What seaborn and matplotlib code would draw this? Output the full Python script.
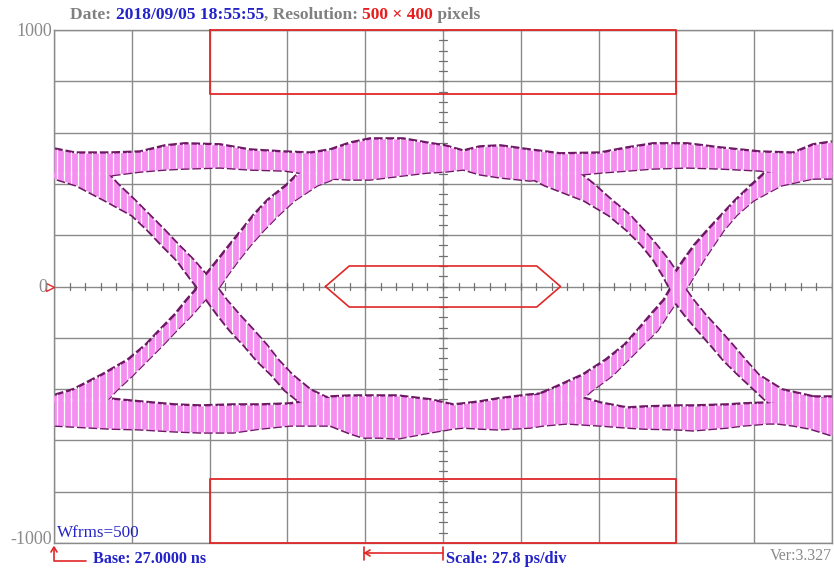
import numpy as np
import matplotlib
matplotlib.use("Agg")
import matplotlib.pyplot as plt
import seaborn as sns

# ---------------- data (time in ps, amplitude in mV) ----------------
PS_PER_DIV = 27.8
N_XDIV = 10
Y_LIM = (-1000, 1000)
Y_STEP = 200

# upper ("1") rail envelope
TOP_X = [0, 7.5, 20.0, 30.7, 39.7, 46.8, 59.3, 70.0, 82.5, 91.5, 98.6, 105.8, 112.9, 124.7, 133.3,
         139.7, 146.2, 152.2, 159.4, 170.1, 180.8, 195.1, 204.8, 214.1, 226.2, 238.0, 252.3, 264.1, 271.2, 278.0]
TOP_HI = [536, 520, 520, 524, 548, 556, 552, 532, 524, 520, 532, 559, 575, 575, 559,
          548, 528, 544, 548, 532, 517, 520, 540, 556, 556, 540, 524, 520, 552, 563]
TOP_LO = [431, 431, 435, 450, 458, 462, 466, 458, 454, 439, 423, 419, 419, 435, 446,
          450, 458, 439, 427, 415, 431, 446, 454, 462, 466, 462, 454, 431, 423, 423]

# lower ("0") rail envelope
BOT_X = [0, 20.0, 30.7, 43.2, 52.2, 64.0, 73.6, 84.3, 98.6, 105.8, 110.4, 116.5, 122.6, 134.4, 142.6,
         146.2, 152.2, 158.3, 164.0, 170.1, 174.7, 183.3, 189.0, 195.1, 204.8, 210.5, 222.6, 228.3,
         240.5, 246.2, 255.1, 258.4, 264.1, 270.1, 278.0]
BOT_HI = [-435, -439, -450, -462, -466, -462, -462, -458, -431, -427, -427, -427, -427, -442, -462,
          -458, -450, -439, -431, -423, -419, -423, -435, -454, -474, -470, -466, -466,
          -462, -458, -454, -446, -435, -431, -431]
BOT_LO = [-540, -552, -555, -563, -567, -567, -552, -540, -540, -571, -587, -587, -591, -567, -552,
          -548, -552, -555, -552, -548, -540, -532, -536, -540, -548, -552, -555, -559,
          -548, -540, -532, -532, -540, -552, -579]

# transitions: amplitude levels and left / right time boundaries
F1_Y = [446, 396, 337, 279, 220, 162, 103, 45, 0, -53, -111, -170, -228, -287, -345, -403, -450]
F1_XL = [-6.8, 7.9, 18.2, 27.9, 33.6, 38.6, 44.0, 47.9, 51.1, 54.7, 58.6, 62.9, 67.9, 72.5, 77.9, 82.5, 87.9]
F1_XR = [18.6, 22.9, 28.6, 33.9, 39.3, 44.3, 49.7, 54.3, 57.9, 61.5, 66.1, 71.1, 75.8, 80.0, 85.0, 91.5, 100.4]

R1_Y = [-450, -403, -345, -287, -228, -170, -111, -53, 0, 45, 103, 162, 220, 279, 337, 396, 446]
R1_XL = [-7.5, 6.8, 17.2, 26.4, 32.9, 37.9, 43.2, 47.5, 51.8, 54.3, 58.6, 62.9, 67.2, 71.5, 76.5, 83.3, 87.9]
R1_XR = [18.2, 22.2, 27.9, 33.2, 38.6, 43.6, 49.0, 53.6, 59.0, 61.8, 65.7, 70.0, 74.7, 80.0, 85.8, 94.0, 105.8]

F2_Y = [446, 396, 337, 279, 220, 162, 103, 45, 0, -53, -111, -170, -228, -287, -345, -403, -450]
F2_XL = [166.5, 175.4, 189.4, 198.3, 204.8, 210.1, 214.4, 217.6, 219.8, 221.5, 225.5, 230.1, 234.8,
         239.4, 244.8, 250.5, 255.1]
F2_XR = [187.2, 193.0, 199.0, 205.5, 210.5, 215.1, 219.4, 223.0, 224.8, 228.3, 232.6, 237.6, 242.3,
         246.9, 251.6, 260.1, 279.1]

R2_Y = [-450, -403, -345, -287, -228, -170, -111, -53, 0, 45, 103, 162, 220, 279, 337, 396, 446]
R2_XL = [166.5, 177.2, 189.0, 197.2, 204.0, 208.7, 213.3, 218.0, 220.8, 221.5, 225.1, 229.0, 233.7,
         238.7, 243.7, 249.4, 254.4]
R2_XR = [187.2, 192.2, 199.4, 204.8, 210.1, 215.5, 219.0, 222.6, 226.2, 228.7, 231.9, 235.5, 239.1,
         243.7, 249.8, 259.8, 280.9]

# eye mask
MASK_X = [55.6, 222.4]
MASK_TOP_Y = [750, 1000]
MASK_BOT_Y = [-1000, -750]
HEX_X = [97.0, 105.5, 172.5, 181.0, 172.5, 105.5, 97.0]
HEX_Y = [0, 80, 80, 0, -80, -80, 0]

Y_LABELS = ["1000", "0", "-1000"]
TITLE_PARTS = [("Date: ", "#808080"), ("2018/09/05 18:55:55", "#2323c8"), (", Resolution: ", "#808080"),
               ("500 \u00d7 400", "#e61e1e"), (" pixels", "#808080")]

# ---------------- style ----------------
sns.set_style("white")
plt.rcParams["font.family"] = ["Liberation Serif", "DejaVu Serif"]

W, H = 834, 569
fig = plt.figure(figsize=(W / 100, H / 100), dpi=100)
x0, x1, y0, y1 = 54, 832, 30, 543
ax = fig.add_axes([x0 / W, 1 - y1 / H, (x1 - x0) / W, (y1 - y0) / H])
xmax = PS_PER_DIV * N_XDIV
ax.set_xlim(0, xmax)
ax.set_ylim(*Y_LIM)

GRID = "#8a8a8a"
ax.set_xticks(np.arange(0, xmax + 0.01, PS_PER_DIV))
ax.set_yticks(np.arange(Y_LIM[0], Y_LIM[1] + 1, Y_STEP))
ax.tick_params(length=0, labelbottom=False, labelleft=False)
ax.grid(True, color=GRID, lw=1.0, zorder=0)
ax.set_axisbelow(True)
for s in ax.spines.values():
    s.set_color(GRID)
    s.set_linewidth(1.0)

# center graticule ticks
xc = xmax / 2
for yy in np.arange(Y_LIM[0], Y_LIM[1] + 1, Y_STEP / 5):
    ax.plot([xc - 1.3, xc + 1.3], [yy, yy], color="#707070", lw=0.9, zorder=1)
for xx in np.arange(0, xmax + 0.01, PS_PER_DIV / 5):
    ax.plot([xx, xx], [-15, 15], color="#707070", lw=0.9, zorder=1)

PINK = "#f48ef1"
EDGE = "#6e1865"

shapes = []
# outlines first (below fill), then fills
edge_kw = dict(color=EDGE, lw=2.6, estimator=None, sort=False, ax=ax, legend=False, zorder=2)
for xs, ys in [(TOP_X, TOP_HI), (TOP_X, TOP_LO), (BOT_X, BOT_HI), (BOT_X, BOT_LO),
               (F1_XL, F1_Y), (F1_XR, F1_Y), (R1_XL, R1_Y), (R1_XR, R1_Y),
               (F2_XL, F2_Y), (F2_XR, F2_Y), (R2_XL, R2_Y), (R2_XR, R2_Y)]:
    sns.lineplot(x=xs, y=ys, **edge_kw)
for ln in ax.get_lines()[-12:]:
    ln.set_dashes([2.4, 0.8])

shapes.append(ax.fill_between(TOP_X, TOP_LO, TOP_HI, color=PINK, lw=0, zorder=3))
shapes.append(ax.fill_between(BOT_X, BOT_LO, BOT_HI, color=PINK, lw=0, zorder=3))
for ys, xl, xr in [(F1_Y, F1_XL, F1_XR), (R1_Y, R1_XL, R1_XR), (F2_Y, F2_XL, F2_XR), (R2_Y, R2_XL, R2_XR)]:
    shapes.append(ax.fill_betweenx(ys, xl, xr, color=PINK, lw=0, zorder=3))

# white sampling stripes inside the traces
stripe_x = np.arange(1.2, xmax, 2.5)
for poly in shapes:
    lc = ax.vlines(stripe_x, Y_LIM[0], Y_LIM[1], colors="white", lw=0.9, zorder=4)
    lc.set_clip_path(poly.get_paths()[0], ax.transData)

# mask
RED = "#e02828"
ax.plot([MASK_X[0], MASK_X[0], MASK_X[1], MASK_X[1], MASK_X[0]],
        [MASK_TOP_Y[1], MASK_TOP_Y[0], MASK_TOP_Y[0], MASK_TOP_Y[1], MASK_TOP_Y[1]],
        color=RED, lw=1.3, zorder=6, clip_on=False)
ax.plot([MASK_X[0], MASK_X[0], MASK_X[1], MASK_X[1], MASK_X[0]],
        [MASK_BOT_Y[0], MASK_BOT_Y[1], MASK_BOT_Y[1], MASK_BOT_Y[0], MASK_BOT_Y[0]],
        color=RED, lw=1.3, zorder=6, clip_on=False)
ax.plot(HEX_X, HEX_Y, color=RED, lw=1.2, zorder=6)

# ---------------- texts ----------------
def fy(py):
    return 1 - py / H

TXT_GRAY = "#8a8a8a"
fig.text(52 / W, fy(31), Y_LABELS[0], ha="right", va="center", color=TXT_GRAY, fontsize=13)
fig.text(47 / W, fy(287), Y_LABELS[1], ha="right", va="center", color=TXT_GRAY, fontsize=13)
fig.text(52 / W, fy(540), Y_LABELS[2], ha="right", va="center", color=TXT_GRAY, fontsize=13)
ax.plot([-1.3], [0], marker=">", ms=6, mfc="none", mec=RED, mew=1.0, clip_on=False, zorder=7)

fig.canvas.draw()
r = fig.canvas.get_renderer()

def text_width(s, **kw):
    t = fig.text(0, 0, s + "|", **kw)
    w1 = t.get_window_extent(r).width
    t.remove()
    t = fig.text(0, 0, "|", **kw)
    w2 = t.get_window_extent(r).width
    t.remove()
    return w1 - w2

tkw = dict(fontsize=12.6, fontweight="bold")
prefix = ""
for s, c in TITLE_PARTS:
    xx = 70 + text_width(prefix, **tkw) if prefix else 70
    fig.text(xx / W, fy(19), s, color=c, ha="left", va="baseline", **tkw)
    prefix += s

BLUE = "#2323c8"
fig.text(57 / W, fy(537), "Wfrms=500", color=BLUE, ha="left", va="baseline", fontsize=12.3)
fig.text(93 / W, fy(563), "Base: 27.0000 ns", color=BLUE, ha="left", va="baseline",
         fontsize=11.6, fontweight="bold")
fig.text(446 / W, fy(563), "Scale: 27.8 ps/div", color=BLUE, ha="left", va="baseline",
         fontsize=11.8, fontweight="bold")
fig.text(832 / W, fy(560), "Ver:3.327", color=TXT_GRAY, ha="right", va="baseline", fontsize=11.5)

# base marker (L-arrow)
fig.add_artist(plt.Line2D([54 / W, 54 / W, 86 / W], [fy(549), fy(561), fy(561)], color=RED, lw=1.2))
fig.add_artist(plt.Line2D([51 / W, 54 / W, 57 / W], [fy(552), fy(547), fy(552)], color=RED, lw=1.2))
# scale marker
fig.add_artist(plt.Line2D([364 / W, 443 / W], [fy(553), fy(553)], color=RED, lw=1.2))
fig.add_artist(plt.Line2D([364 / W, 364 / W], [fy(547), fy(560)], color=RED, lw=1.2))
fig.add_artist(plt.Line2D([443 / W, 443 / W], [fy(547), fy(560)], color=RED, lw=1.2))
fig.add_artist(plt.Line2D([370 / W, 365 / W, 370 / W], [fy(550), fy(553), fy(556)], color=RED, lw=1.2))

fig.savefig("out.png", dpi=100)
